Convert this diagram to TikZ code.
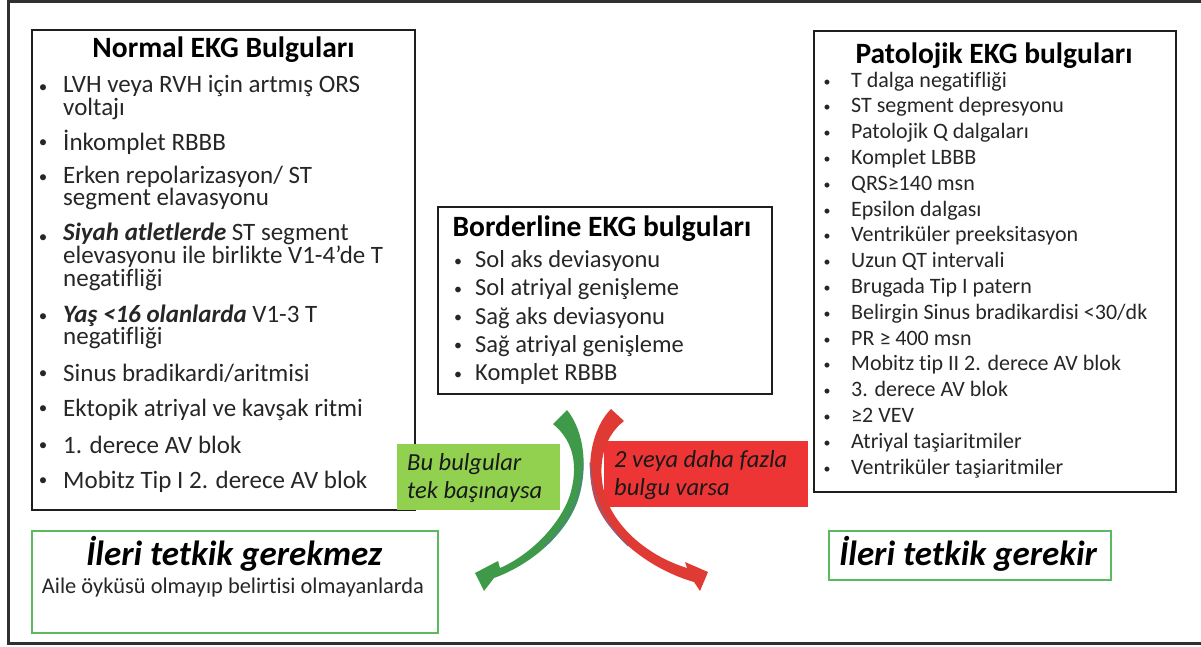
\documentclass[tikz,border=0pt]{standalone}
\usepackage{fontspec}
\setmainfont{Carlito}[Ligatures={NoCommon,NoContextual}]
\definecolor{txt}{HTML}{262626}
\definecolor{framec}{HTML}{303030}
\definecolor{boxline}{HTML}{1E1E1E}
\definecolor{okgreen}{HTML}{5CBA5E}
\definecolor{lblgreen}{HTML}{92D050}
\definecolor{lblred}{HTML}{EE3535}
\definecolor{arrgreen}{HTML}{3E9A48}
\definecolor{arrred}{HTML}{E03A35}
\definecolor{edgeblue}{HTML}{5478B0}
\begin{document}
\begin{tikzpicture}[x=1pt,y=-1pt,
  blackbox/.style={draw=boxline, line width=2.6pt, inner sep=0pt, outer sep=0pt, anchor=north west},
  greenbox/.style={draw=okgreen, line width=2.6pt, inner sep=0pt, outer sep=0pt, anchor=north west},
  lblbox/.style={inner sep=0pt, outer sep=0pt, anchor=north west},
  ttl/.style={anchor=base, inner sep=0pt, font=\bfseries\fontsize{29.5}{30}\selectfont, text=black},
  nitem/.style={anchor=base west, inner sep=0pt, align=left, font=\fontsize{25}{20.5}\selectfont, text=txt},
  bitem/.style={anchor=base west, inner sep=0pt, font=\fontsize{24.5}{25}\selectfont, text=txt},
  pitem/.style={anchor=base west, inner sep=0pt, font=\fontsize{22}{22}\selectfont, text=txt},
  bul/.style={anchor=base, inner sep=0pt, text=txt},
  lbl/.style={anchor=base west, inner sep=0pt, align=left, font=\itshape\fontsize{24.5}{28}\selectfont, text=black!90},
  big/.style={anchor=base, inner sep=0pt, font=\bfseries\itshape\fontsize{35}{36}\selectfont, text=black},
  sub/.style={anchor=base, inner sep=0pt, font=\fontsize{22.4}{23}\selectfont, text=txt},
]
\useasboundingbox (0,0) rectangle (1201,646);
% outer frame
\draw[framec, line width=3pt] (1201,1.5) -- (8,1.5) -- (8,643) -- (1201,643);

% main boxes
\node[blackbox, minimum width=383pt, minimum height=480pt] (normal) at (32,30) {};
\node[blackbox, minimum width=334pt, minimum height=187pt] (border) at (438,207) {};
\node[blackbox, minimum width=362pt, minimum height=461pt] (patol) at (814,31) {};
\node[greenbox, minimum width=406pt, minimum height=102pt] (noneed) at (32,531) {};
\node[greenbox, minimum width=282pt, minimum height=49pt] (need) at (829,531) {};

% label boxes
\node[lblbox, fill=lblgreen, minimum width=163pt, minimum height=66pt] (lg) at (397,444) {};
\node[lblbox, fill=lblred, minimum width=204pt, minimum height=66pt] (lr) at (604,441) {};

% Normal box (multi-line items are placed by the baseline of their last line)
\node[ttl] (ntitle) at (223.5,57) {Normal EKG Bulguları};
\foreach \yy in {95,150,185,245,324,381,416,453,488}
  \node[bul, font=\fontsize{17}{17}\selectfont] at (43,{\yy-3}) {•};
\node[nitem] (n1) at (63,115.5) {LVH veya RVH için artmış ORS\\voltajı};
\node[nitem] (n2) at (63,150) {İnkomplet RBBB};
\node[nitem] (n3) at (63,205.5) {Erken repolarizasyon/ ST\\segment elavasyonu};
\node[nitem] (n4) at (63,286) {\textbf{\textit{Siyah atletlerde}} ST segment\\elevasyonu ile birlikte V1-4’de T\\negatifliği};
\node[nitem] (n5) at (63,344.5) {\textbf{\textit{Yaş <16 olanlarda}} V1-3 T\\negatifliği};
\node[nitem] (n6) at (63,381) {Sinus bradikardi/aritmisi};
\node[nitem] (n7) at (63,416) {Ektopik atriyal ve kavşak ritmi};
\node[nitem] (n8) at (63,453) {1. derece AV blok};
\node[nitem] (n9) at (63,488) {Mobitz Tip I 2. derece AV blok};

% Borderline box
\node[ttl] (btitle) at (602,236) {Borderline EKG bulguları};
\foreach \t [count=\i from 0] in {Sol aks deviasyonu, Sol atriyal genişleme, Sağ aks deviasyonu, Sağ atriyal genişleme, Komplet RBBB}{
  \node[bul, font=\fontsize{16}{16}\selectfont] at (458,{267.5+28.3*\i-1.5}) {•};
  \node[bitem] (b\i) at (475,{267.5+28.3*\i}) {\t};
}

% Patolojik box
\node[ttl] (ptitle) at (994,63) {Patolojik EKG bulguları};
\foreach \t [count=\i from 0] in {T dalga negatifliği, ST segment depresyonu, Patolojik Q dalgaları, Komplet LBBB, QRS≥140 msn, Epsilon dalgası, Ventriküler preeksitasyon, Uzun QT intervali, Brugada Tip I patern, Belirgin Sinus bradikardisi <30/dk, PR ≥ 400 msn, Mobitz tip II 2. derece AV blok, 3. derece AV blok, ≥2 VEV, Atriyal taşiaritmiler, Ventriküler taşiaritmiler}{
  \node[bul, font=\fontsize{14}{14}\selectfont] at (827,{87+25.8*\i-1}) {•};
  \node[pitem] (p\i) at (851,{87+25.8*\i}) {\t};
}

% outcome boxes text
\node[big] (t1) at (234,565) {İleri tetkik gerekmez};
\node[sub] (t1s) at (233,593) {Aile öyküsü olmayıp belirtisi olmayanlarda};
\node[big] (t2) at (968,565) {İleri tetkik gerekir};

% label texts (placed by last baseline)
\node[lbl] (lgt) at (407,498) {Bu bulgular\\tek başınaysa};
\node[lbl] (lrt) at (614,495) {2 veya daha fazla\\bulgu varsa};

% curved arrows
\fill[arrgreen] (553,424) -- (567,410) .. controls (585,432) and (588,470) .. (578,500)
  .. controls (566,535) and (530,565) .. (494,578) -- (484,591) -- (475,573) -- (498,561) -- (500,568)
  .. controls (530,555) and (560,525) .. (570,495) .. controls (578,468) and (575,442) .. cycle;
\draw[edgeblue, line width=0.8pt] (583,462) .. controls (583,490) and (572,520) .. (545,546);
\fill[arrred] (611,409) .. controls (592,428) and (585,465) .. (594,497)
  .. controls (603,530) and (645,568) .. (694,582) -- (700,591) -- (708,572) -- (685,562) -- (687,568)
  .. controls (645,555) and (614,525) .. (605,495) .. controls (597,468) and (602,438) .. (624,421) -- cycle;
\draw[edgeblue, line width=0.8pt] (590,462) .. controls (590,490) and (602,522) .. (628,546);
\end{tikzpicture}
\end{document}
